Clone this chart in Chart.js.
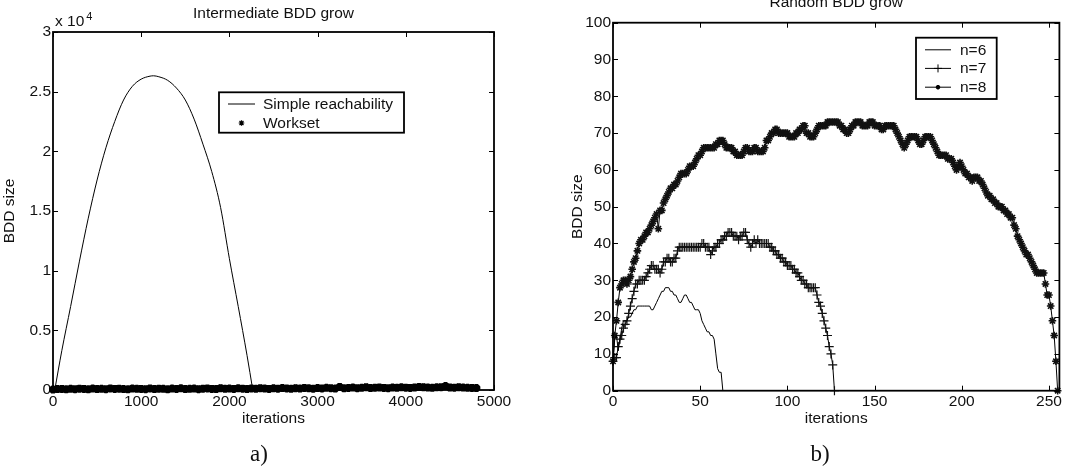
<!DOCTYPE html>
<html>
<head>
<meta charset="utf-8">
<script src="https://cdn.jsdelivr.net/npm/chart.js@4.4.1/dist/chart.umd.min.js"></script>
<style>
  html, body { margin: 0; padding: 0; background: #fff; }
  #wrap { position: relative; width: 1087px; height: 471px; overflow: hidden; }
  canvas { position: absolute; top: 0; }
</style>
</head>
<body>
<div id="wrap">
  <canvas id="chartA" width="540" height="471" style="left:0"></canvas>
  <canvas id="chartB" width="547" height="471" style="left:540px"></canvas>
</div>
<script>
// ---- a) Intermediate BDD grow ----
const reachIter = [20, 100, 200, 300, 400, 500, 600, 700, 800, 900, 1000, 1100, 1140, 1200,
  1300, 1400, 1500, 1600, 1700, 1800, 1900, 2000, 2100, 2200, 2265];
const reachSize = [0, 3300, 7000, 10800, 14400, 17600, 20300, 22500, 24300, 25450, 26050, 26300,
  26330, 26250, 25950, 25300, 24300, 22700, 20600, 18300, 15300, 11000, 7000, 2900, 0];

// workset size, read every 50 iterations from 0 to 4800
const worksetSize = [
  40, 80, 90, 60, 100, 70, 110, 90, 60, 120,
  80, 100, 70, 130, 90, 110, 80, 60, 120, 100,
  90, 70, 130, 80, 110, 100, 60, 120, 90, 140,
  80, 100, 120, 70, 110, 130, 90, 80, 150, 100,
  120, 90, 140, 110, 80, 130, 100, 150, 120, 90,
  140, 110, 160, 130, 100, 150, 120, 170, 140, 110,
  160, 130, 180, 150, 120, 260, 140, 170, 200, 150,
  180, 230, 160, 190, 210, 170, 150, 200, 180, 220,
  190, 170, 210, 250, 230, 200, 180, 220, 240, 330,
  210, 190, 230, 200, 180, 170, 160];
const worksetStep = 50;

const yTicksA = [0, 5000, 10000, 15000, 20000, 25000, 30000];
const xTicksA = [0, 1000, 2000, 3000, 4000, 5000];

// ---- b) Random BDD grow ----
const n6 = [8, 14, 15, 11, 14, 17, 19, 19, 19, 20, 20, 21, 22, 22, 23, 23, 23, 23, 23, 23,
  23, 23, 22, 22, 23, 24, 25, 26, 27, 27, 28, 28, 28, 27, 27, 26, 26, 25, 24, 24,
  25, 26, 26, 25, 24, 24, 23, 22, 22, 22, 21, 19, 18, 17, 16, 16, 15, 15, 14, 10,
  6, 5, 5, 0];
const n7 = [8, 9, 9, 12, 14, 15, 17, 18, 19, 21, 23, 25, 27, 29, 29, 30, 30, 30, 30, 31,
  32, 33, 34, 34, 33, 33, 33, 32, 33, 35, 35, 36, 36, 35, 35, 36, 36, 38, 39, 39,
  39, 39, 39, 39, 39, 39, 39, 39, 39, 39, 39, 40, 40, 39, 39, 39, 37, 38, 39, 39,
  40, 40, 41, 41, 42, 42, 43, 43, 43, 42, 42, 42, 41, 42, 42, 43, 43, 41, 40, 39,
  40, 41, 40, 41, 40, 40, 40, 40, 40, 40, 39, 39, 38, 38, 37, 37, 36, 36, 35, 35,
  34, 34, 34, 33, 33, 32, 32, 31, 30, 30, 29, 29, 28, 28, 28, 28, 28, 26, 24, 23,
  21, 19, 17, 15, 12, 10, 7, 0];
const n8 = [8, 15, 19, 24, 28, 29, 30, 30, 29, 30, 31, 33, 35, 36, 38, 40, 41, 41, 42, 43,
  43, 44, 45, 46, 47, 48, 44, 49, 49, 51, 52, 53, 54, 55, 55, 56, 56, 57, 58, 59,
  59, 59, 59, 60, 61, 61, 61, 62, 63, 64, 64, 65, 66, 66, 66, 66, 66, 66, 66, 67,
  67, 68, 68, 68, 67, 66, 66, 66, 66, 65, 65, 64, 64, 64, 64, 65, 66, 66, 65, 65,
  65, 66, 66, 65, 65, 65, 65, 66, 68, 68, 69, 70, 70, 71, 71, 70, 70, 70, 70, 70,
  70, 69, 69, 69, 69, 70, 70, 71, 71, 72, 72, 70, 70, 69, 69, 69, 70, 71, 72, 72,
  72, 72, 72, 73, 73, 73, 73, 73, 73, 73, 72, 72, 71, 71, 70, 70, 71, 72, 72, 73,
  73, 73, 73, 72, 72, 72, 72, 73, 73, 73, 72, 72, 72, 72, 71, 71, 72, 72, 72, 72,
  72, 72, 71, 70, 69, 68, 67, 66, 67, 68, 69, 69, 69, 69, 69, 68, 67, 67, 68, 69,
  69, 69, 69, 68, 67, 66, 65, 64, 64, 64, 64, 64, 63, 63, 63, 62, 61, 60, 61, 62,
  61, 60, 59, 59, 58, 58, 57, 58, 58, 58, 57, 57, 56, 55, 54, 53, 53, 52, 52, 51,
  51, 50, 50, 50, 49, 49, 48, 48, 47, 47, 45, 44, 42, 41, 40, 39, 38, 37, 37, 36,
  35, 34, 33, 32, 32, 32, 32, 32, 29, 26, 26, 23, 19, 15, 8, 0];
const yTicksB = [0, 10, 20, 30, 40, 50, 60, 70, 80, 90, 100];
const xTicksB = [0, 50, 100, 150, 200, 250];

const FONT = '"Liberation Sans", Arial, Helvetica, sans-serif';
const FS = 15.5;
Chart.defaults.font.family = FONT;
Chart.defaults.font.size = FS;
Chart.defaults.color = '#111';

// box around the plot with inward ticks on all four sides
const framePlugin = {
  id: 'frame',
  afterDatasetsDraw(chart) {
    const { ctx, chartArea: a, scales: { x, y } } = chart;
    ctx.save();
    ctx.strokeStyle = '#000';
    ctx.lineWidth = 1;
    ctx.beginPath();
    x.ticks.forEach(t => {
      const px = Math.round(x.getPixelForValue(t.value)) + 0.5;
      ctx.moveTo(px, a.bottom); ctx.lineTo(px, a.bottom - 5);
      ctx.moveTo(px, a.top); ctx.lineTo(px, a.top + 5);
    });
    y.ticks.forEach(t => {
      const py = Math.round(y.getPixelForValue(t.value)) + 0.5;
      ctx.moveTo(a.left, py); ctx.lineTo(a.left + 5, py);
      ctx.moveTo(a.right, py); ctx.lineTo(a.right - 5, py);
    });
    ctx.stroke();
    ctx.lineWidth = 1.8;
    ctx.strokeRect(a.left, a.top, a.right - a.left, a.bottom - a.top);
    ctx.restore();
  }
};

// title, "x 10^4" factor and a)/b) caption
const textPlugin = {
  id: 'texts',
  afterDraw(chart, args, o) {
    const { ctx, chartArea: a } = chart;
    ctx.save();
    ctx.fillStyle = '#111';
    ctx.textBaseline = 'alphabetic';
    ctx.textAlign = 'center';
    ctx.font = FS + 'px ' + FONT;
    ctx.fillText(o.title, (a.left + a.right) / 2, o.titleY);
    if (o.factor) {
      ctx.textAlign = 'left';
      ctx.fillText('x 10', a.left + 2, a.top - 6);
      const w = ctx.measureText('x 10').width;
      ctx.font = '11px ' + FONT;
      ctx.fillText('4', a.left + 4 + w, a.top - 12);
    }
    ctx.textAlign = 'center';
    ctx.font = '23px "Liberation Serif", "Times New Roman", serif';
    ctx.fillText(o.caption, o.captionX, 461);
    ctx.restore();
  }
};

// MATLAB style legend box
const boxLegendPlugin = {
  id: 'boxLegend',
  afterDraw(chart, args, o) {
    const { ctx } = chart;
    ctx.save();
    ctx.fillStyle = '#fff';
    ctx.fillRect(o.x, o.y, o.w, o.h);
    ctx.strokeStyle = '#000';
    ctx.lineWidth = 1.8;
    ctx.strokeRect(o.x, o.y, o.w, o.h);
    chart.data.datasets.forEach((ds, i) => {
      const ry = o.rows[i];
      ctx.strokeStyle = '#000';
      ctx.fillStyle = '#000';
      ctx.lineWidth = 1;
      if (ds.showLine !== false) {
        ctx.beginPath();
        ctx.moveTo(o.x1, ry); ctx.lineTo(o.x2, ry);
        ctx.stroke();
      }
      if (ds.pointRadius > 0) {
        ctx.lineWidth = o.markerWidth[i];
        Chart.helpers.drawPoint(ctx, {
          pointStyle: ds.pointStyle, radius: o.markerRadius[i], borderWidth: o.markerWidth[i], rotation: 0
        }, (o.x1 + o.x2) / 2, ry);
      }
      ctx.fillStyle = '#111';
      ctx.font = FS + 'px ' + FONT;
      ctx.textAlign = 'left';
      ctx.textBaseline = 'middle';
      ctx.fillText(ds.label, o.textX, ry + 0.5);
    });
    ctx.restore();
  }
};

function axisCommon(min, max, tickVals, fmt) {
  return {
    type: 'linear', min: min, max: max,
    grid: { display: false, drawTicks: false },
    border: { display: false },
    afterBuildTicks: s => { s.ticks = tickVals.map(v => ({ value: v })); },
    ticks: { padding: 2, color: '#111', callback: fmt || (v => v) }
  };
}

// ---------- chart a ----------
new Chart(document.getElementById('chartA'), {
  type: 'scatter',
  data: {
    datasets: [
      {
        label: 'Simple reachability',
        data: reachIter.map((x, i) => ({ x: x, y: reachSize[i] })),
        showLine: true, borderColor: '#000', borderWidth: 1, pointRadius: 0,
        cubicInterpolationMode: 'monotone'
      },
      {
        label: 'Workset',
        data: worksetSize.map((v, i) => ({ x: i * worksetStep, y: v })),
        showLine: false, pointStyle: 'star', pointRadius: 4,
        borderColor: '#000', backgroundColor: '#000', pointBorderWidth: 3, clip: 6
      }
    ]
  },
  options: {
    responsive: false, animation: false, devicePixelRatio: 1,
    layout: { padding: { left: 0, right: 46, top: 32, bottom: 43.2 } },
    plugins: {
      legend: { display: false }, tooltip: { enabled: false },
      texts: { title: 'Intermediate BDD grow', titleY: 18, factor: true, caption: 'a)', captionX: 259 },
      boxLegend: { x: 219, y: 92.3, w: 185, h: 40.4, rows: [104, 123], x1: 228, x2: 255,
        textX: 263, markerRadius: [0, 2.8], markerWidth: [1, 1.2] }
    },
    scales: {
      x: Object.assign(axisCommon(0, 5000, xTicksA), {
        title: { display: true, text: 'iterations', padding: 0, color: '#111' },
        afterFit: s => { s.height = 37.8; }
      }),
      y: Object.assign(axisCommon(0, 30000, yTicksA, v => String(v / 10000)), {
        title: { display: true, text: 'BDD size', padding: 0, color: '#111' },
        afterFit: s => { s.width = 53; }
      })
    }
  },
  plugins: [framePlugin, textPlugin, boxLegendPlugin]
});

// ---------- chart b ----------
function idxSeries(arr) { return arr.map((v, i) => ({ x: i, y: v })); }

new Chart(document.getElementById('chartB'), {
  type: 'scatter',
  data: {
    datasets: [
      {
        label: 'n=6', data: idxSeries(n6), showLine: true,
        borderColor: '#000', borderWidth: 1, pointRadius: 0, clip: 6
      },
      {
        label: 'n=7', data: idxSeries(n7), showLine: true,
        borderColor: '#000', borderWidth: 1, pointStyle: 'cross', pointRadius: 4.5,
        pointBorderColor: '#111', pointBorderWidth: 1.2, clip: 6
      },
      {
        label: 'n=8', data: idxSeries(n8), showLine: true,
        borderColor: '#000', borderWidth: 1, pointStyle: 'star', pointRadius: 3.8,
        pointBorderColor: '#111', pointBorderWidth: 1.6, clip: 6
      }
    ]
  },
  options: {
    responsive: false, animation: false, devicePixelRatio: 1,
    layout: { padding: { left: 0, right: 27.6, top: 22.7, bottom: 43.2 } },
    plugins: {
      legend: { display: false }, tooltip: { enabled: false },
      texts: { title: 'Random BDD grow', titleY: 7, factor: false, caption: 'b)', captionX: 280 },
      boxLegend: { x: 376, y: 37.7, w: 80.7, h: 61.3, rows: [49.8, 68.4, 87.2], x1: 385, x2: 411,
        textX: 420, markerRadius: [0, 4, 2.2], markerWidth: [1, 1, 1.6] }
    },
    scales: {
      x: Object.assign(axisCommon(0, 256, xTicksB), {
        title: { display: true, text: 'iterations', padding: 0, color: '#111' },
        afterFit: s => { s.height = 37.1; }
      }),
      y: Object.assign(axisCommon(0, 100, yTicksB), {
        title: { display: true, text: 'BDD size', padding: { top: 28, bottom: 0 }, color: '#111' },
        afterFit: s => { s.width = 73; }
      })
    }
  },
  plugins: [framePlugin, textPlugin, boxLegendPlugin]
});
</script>
</body>
</html>
